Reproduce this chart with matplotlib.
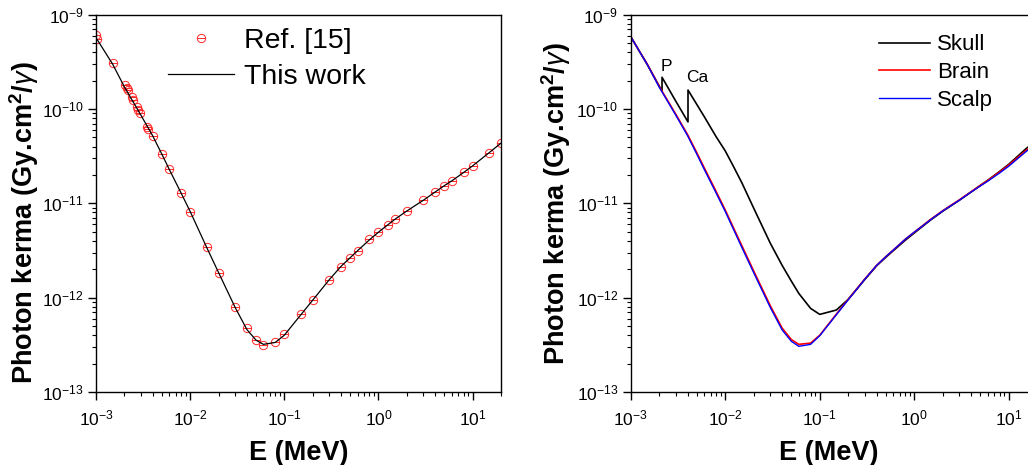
import numpy as np
import matplotlib
matplotlib.use("Agg")
import matplotlib.pyplot as plt
import matplotlib.path as mpath
from matplotlib.ticker import LogLocator, NullFormatter

plt.rcParams['font.family'] = ['Liberation Sans', 'DejaVu Sans']
plt.rcParams['mathtext.fontset'] = 'custom'
plt.rcParams['mathtext.rm'] = 'Liberation Sans'
plt.rcParams['mathtext.it'] = 'Liberation Sans:italic'
plt.rcParams['mathtext.bf'] = 'Liberation Sans:bold'

# ---------------- data: left panel ----------------
ref_E = [1.0e-3, 1.03e-3, 1.5e-3, 2.03e-3, 2.12e-3, 2.2e-3, 2.39e-3, 2.49e-3, 2.7e-3,
         2.8e-3, 2.9e-3, 3.45e-3, 3.6e-3, 4.0e-3, 5.0e-3, 6.0e-3, 8.0e-3, 1.0e-2,
         1.5e-2, 2.0e-2, 3.0e-2, 4.0e-2, 5.0e-2, 6.0e-2, 8.0e-2, 0.1, 0.15, 0.2,
         0.3, 0.4, 0.5, 0.6, 0.8, 1.0, 1.25, 1.5, 2.0, 3.0, 4.0, 5.0, 6.0, 8.0,
         10.0, 15.0, 20.0]
ref_K = [6.1e-10, 5.5e-10, 3.05e-10, 1.80e-10, 1.66e-10, 1.60e-10, 1.35e-10, 1.24e-10, 1.06e-10,
         9.8e-11, 9.0e-11, 6.5e-11, 6.2e-11, 5.2e-11, 3.33e-11, 2.29e-11, 1.29e-11, 8.1e-12,
         3.41e-12, 1.84e-12, 7.9e-13, 4.72e-13, 3.55e-13, 3.14e-13, 3.4e-13, 4.1e-13, 6.7e-13, 9.4e-13,
         1.54e-12, 2.13e-12, 2.65e-12, 3.14e-12, 4.15e-12, 5.0e-12, 5.9e-12, 6.76e-12, 8.35e-12,
         1.08e-11, 1.33e-11, 1.54e-11, 1.72e-11, 2.13e-11, 2.5e-11, 3.44e-11, 4.33e-11]

work_E = [1e-3, 1.5e-3, 2e-3, 3e-3, 4e-3, 5e-3, 6e-3, 8e-3, 1e-2, 1.5e-2, 2e-2, 3e-2,
          4e-2, 5e-2, 6e-2, 8e-2, 0.1, 0.15, 0.2, 0.3, 0.4, 0.5, 0.6, 0.8, 1.0, 1.25,
          1.5, 2.0, 3.0, 4.0, 5.0, 6.0, 8.0, 10.0, 15.0, 20.0]
work_K = [5.7e-10, 3.0e-10, 1.72e-10, 8.6e-11, 5.2e-11, 3.33e-11, 2.29e-11, 1.29e-11, 8.2e-12,
          3.4e-12, 1.85e-12, 7.9e-13, 4.6e-13, 3.55e-13, 3.2e-13, 3.35e-13, 4.0e-13, 6.6e-13,
          9.4e-13, 1.55e-12, 2.15e-12, 2.65e-12, 3.15e-12, 4.1e-12, 4.95e-12, 5.9e-12, 6.8e-12,
          8.3e-12, 1.08e-11, 1.32e-11, 1.54e-11, 1.73e-11, 2.12e-11, 2.5e-11, 3.45e-11, 4.35e-11]

# ---------------- data: right panel ----------------
skull_E = [1e-3, 1.5e-3, 2.145e-3, 2.145e-3, 3e-3, 4.038e-3, 4.038e-3, 5e-3, 6e-3, 8e-3,
           1e-2, 1.2e-2, 1.5e-2, 2e-2, 3e-2, 4e-2, 5e-2, 6e-2, 8e-2, 0.1, 0.15, 0.2, 0.3, 0.4,
           0.5, 0.6, 0.8, 1.0, 1.25, 1.5, 2.0, 3.0, 4.0, 5.0, 6.0, 8.0, 10.0, 15.0, 20.0]
skull_K = [5.85e-10, 2.95e-10, 1.55e-10, 2.17e-10, 1.21e-10, 7.3e-11, 1.59e-10, 1.12e-10, 8.3e-11,
           5.1e-11, 3.6e-11, 2.55e-11, 1.65e-11, 8.9e-12, 3.77e-12, 2.2e-12, 1.5e-12, 1.11e-12,
           7.7e-13, 6.65e-13, 7.4e-13, 9.6e-13, 1.56e-12, 2.18e-12, 2.68e-12, 3.15e-12, 4.05e-12,
           4.85e-12, 5.8e-12, 6.7e-12, 8.25e-12, 1.08e-11, 1.32e-11, 1.55e-11, 1.76e-11, 2.18e-11,
           2.6e-11, 3.75e-11, 4.75e-11]

brain_E = [1e-3, 1.5e-3, 2e-3, 3e-3, 4e-3, 5e-3, 6e-3, 8e-3, 1e-2, 1.5e-2, 2e-2, 3e-2,
           4e-2, 5e-2, 6e-2, 8e-2, 0.1, 0.15, 0.2, 0.3, 0.4, 0.5, 0.6, 0.8, 1.0, 1.25,
           1.5, 2.0, 3.0, 4.0, 5.0, 6.0, 8.0, 10.0, 15.0, 20.0]
brain_K = [5.85e-10, 2.98e-10, 1.74e-10, 8.8e-11, 5.35e-11, 3.45e-11, 2.38e-11, 1.34e-11, 8.5e-12,
           3.55e-12, 1.92e-12, 8.2e-13, 4.75e-13, 3.6e-13, 3.2e-13, 3.3e-13, 4.0e-13, 6.7e-13,
           9.6e-13, 1.58e-12, 2.2e-12, 2.72e-12, 3.2e-12, 4.15e-12, 4.95e-12, 5.9e-12, 6.8e-12,
           8.35e-12, 1.09e-11, 1.33e-11, 1.55e-11, 1.75e-11, 2.15e-11, 2.55e-11, 3.6e-11, 4.55e-11]

scalp_E = brain_E
scalp_K = [5.85e-10, 2.96e-10, 1.71e-10, 8.6e-11, 5.2e-11, 3.33e-11, 2.29e-11, 1.29e-11, 8.2e-12,
           3.4e-12, 1.84e-12, 7.85e-13, 4.55e-13, 3.45e-13, 3.05e-13, 3.2e-13, 3.95e-13, 6.6e-13,
           9.5e-13, 1.57e-12, 2.2e-12, 2.72e-12, 3.2e-12, 4.15e-12, 4.95e-12, 5.85e-12, 6.75e-12,
           8.3e-12, 1.08e-11, 1.32e-11, 1.53e-11, 1.72e-11, 2.1e-11, 2.48e-11, 3.5e-11, 4.4e-11]

edge_labels = ['P', 'Ca']
edge_pos = [(2.06e-3, 2.55e-10), (3.9e-3, 1.95e-10)]

# ---------------- figure ----------------
fig = plt.figure(figsize=(10.28, 4.65), dpi=100)
W, H = 1028.0, 465.0
bot = (H - 392) / H
hgt = (392 - 14.7) / H
ax1 = fig.add_axes([96 / W, bot, (501 - 96) / W, hgt])
ax2 = fig.add_axes([630.7 / W, bot, (1027.6 - 630.7) / W, hgt])

circ = mpath.Path.unit_circle()
mverts = np.concatenate([circ.vertices, [[-1, 0], [1, 0]]])
mcodes = np.concatenate([circ.codes, [mpath.Path.MOVETO, mpath.Path.LINETO]])
cmark = mpath.Path(mverts, mcodes)

ax1.plot(ref_E, ref_K, linestyle='none', marker=cmark, markersize=6,
         markerfacecolor='none', markeredgecolor='#ff2a2a', markeredgewidth=0.7,
         label='Ref. [15]', zorder=2)
ax1.plot(work_E, work_K, color='black', lw=0.9, label='This work', zorder=3)

ax2.plot(skull_E, skull_K, color='black', lw=1.2, label='Skull')
ax2.plot(brain_E, brain_K, color='#ff0000', lw=1.2, label='Brain')
ax2.plot(scalp_E, scalp_K, color='#0000ff', lw=1.0, label='Scalp')
for t, (x, y) in zip(edge_labels, edge_pos):
    ax2.text(x, y, t, fontsize=12.5, ha='left', va='baseline')

for ax, xmax in ((ax1, 20.0), (ax2, 15.8)):
    ax.set_xscale('log')
    ax.set_yscale('log')
    ax.set_xlim(1e-3, xmax)
    ax.set_ylim(1e-13, 1e-9)
    ax.xaxis.set_major_locator(LogLocator(base=10, numticks=20))
    ax.yaxis.set_major_locator(LogLocator(base=10, numticks=20))
    ax.xaxis.set_minor_locator(LogLocator(base=10, subs=np.arange(2, 10), numticks=20))
    ax.yaxis.set_minor_locator(LogLocator(base=10, subs=np.arange(2, 10), numticks=20))
    ax.xaxis.set_minor_formatter(NullFormatter())
    ax.yaxis.set_minor_formatter(NullFormatter())
    ax.tick_params(which='major', direction='out', length=6, width=1.0, labelsize=12.5,
                   top=False, right=False)
    ax.tick_params(axis='x', which='major', pad=6)
    ax.tick_params(axis='y', which='major', pad=3)
    ax.tick_params(which='minor', direction='out', length=3, width=0.8,
                   top=False, right=False)
    for s in ax.spines.values():
        s.set_linewidth(1.0)
    ax.set_xlabel('E (MeV)', fontsize=19.5, fontweight='bold', labelpad=8)
    ax.set_ylabel('Photon kerma (Gy.cm$^{\\mathbf{2}}$/$\\gamma$)', fontsize=19.5,
                  fontweight='bold')

ax2.spines['right'].set_visible(False)
ax1.yaxis.set_label_coords(-0.135, 0.45)
ax2.yaxis.set_label_coords(-0.145, 0.5)

ax1.legend(loc='upper left', bbox_to_anchor=(0.178, 0.966), frameon=False,
           fontsize=20.5, handlelength=2.3, handletextpad=0.35, labelspacing=0.37,
           borderpad=0, borderaxespad=0)
ax2.legend(loc='upper left', bbox_to_anchor=(0.626, 0.948), frameon=False,
           fontsize=16, handlelength=2.3, handletextpad=0.3, labelspacing=0.3,
           borderpad=0, borderaxespad=0)

fig.savefig('out.png', dpi=100)
